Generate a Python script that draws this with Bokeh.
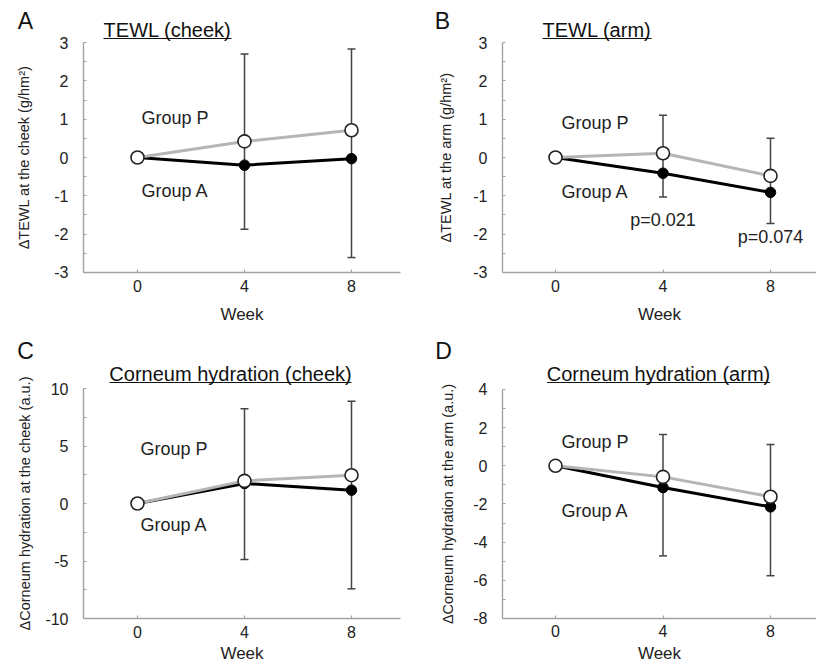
from bokeh.plotting import figure
from bokeh.layouts import gridplot
from bokeh.models import (ColumnDataSource, FixedTicker, Whisker, TeeHead, Label, Arrow,
                          Range1d, PrintfTickFormatter)
from bokeh.embed import file_html
from bokeh.resources import INLINE
from bokeh.core.properties import value

FONT = "Liberation Sans"

weeks = [0, 4, 8]
err_weeks = [4, 8]
week_ticks = [0, 4, 8]

# Panel A: TEWL (cheek)
a_group_p = [0, 0.42, 0.71]
a_group_a = [0, -0.20, -0.03]
a_err_upper = [2.70, 2.83]
a_err_lower = [-1.87, -2.61]
a_yticks = [-3, -2, -1, 0, 1, 2, 3]
a_yminor = [-2.5, -1.5, -0.5, 0.5, 1.5, 2.5]

# Panel B: TEWL (arm)
b_group_p = [0, 0.11, -0.48]
b_group_a = [0, -0.41, -0.91]
b_err_upper = [1.10, 0.50]
b_err_lower = [-1.03, -1.72]
b_yticks = [-3, -2, -1, 0, 1, 2, 3]
b_yminor = [-2.5, -1.5, -0.5, 0.5, 1.5, 2.5]
b_pvalues = ["p=0.021", "p=0.074"]
b_pvalue_y = [-1.63, -2.07]

# Panel C: Corneum hydration (cheek)
c_group_p = [0, 1.97, 2.46]
c_group_a = [0, 1.74, 1.16]
c_err_upper = [8.23, 8.90]
c_err_lower = [-4.87, -7.42]
c_yticks = [-10, -5, 0, 5, 10]
c_yminor = [-7.5, -2.5, 2.5, 7.5]

# Panel D: Corneum hydration (arm)
d_group_p = [0, -0.58, -1.62]
d_group_a = [0, -1.14, -2.15]
d_err_upper = [1.64, 1.12]
d_err_lower = [-4.72, -5.76]
d_yticks = [-8, -6, -4, -2, 0, 2, 4]
d_yminor = [-7, -5, -3, -1, 1, 3]


def make_panel(cfg):
    # canvas placement and pixel calibration (layout only)
    ox, oy, w, h = cfg["canvas"]
    x0px, xppu = cfg["xcal"]
    y0px, yppu = cfg["ycal"]
    dx = lambda X: (X - x0px) / xppu
    dy = lambda Y: (y0px - Y) / yppu

    p = figure(width=w, height=h,
               x_range=Range1d(dx(ox), dx(ox + w)),
               y_range=Range1d(dy(oy + h), dy(oy)),
               output_backend="svg", toolbar_location=None, min_border=0)
    p.outline_line_color = None
    p.xgrid.visible = False
    p.ygrid.visible = False

    ylo, yhi = cfg["yticks"][0], cfg["yticks"][-1]
    xaxis_left = dx(cfg["axis_x"])
    xaxis_right = min(dx(cfg["axis_right"]), dx(ox + w))

    for ax in (p.xaxis[0], p.yaxis[0]):
        ax.axis_line_color = "#a3a3a3"
        ax.axis_line_width = 1.4
        ax.major_tick_line_color = "#a3a3a3"
        ax.minor_tick_line_color = "#a3a3a3"
        ax.major_tick_line_width = 1.2
        ax.minor_tick_line_width = 1.2
        ax.major_tick_in = 3
        ax.major_tick_out = 0
        ax.minor_tick_in = 3
        ax.minor_tick_out = 0
        ax.major_label_text_font = FONT
        ax.major_label_text_font_size = "16px"
        ax.major_label_text_color = "#222222"
        ax.axis_label_text_font = FONT
        ax.axis_label_text_font_style = "normal"
        ax.axis_label_text_color = "#222222"

    xa = p.xaxis[0]
    xa.fixed_location = ylo
    xa.bounds = (xaxis_left, xaxis_right)
    xa.ticker = FixedTicker(ticks=week_ticks)
    xa.major_label_standoff = cfg["xtick_standoff"]
    xa.axis_label = "Week"
    xa.axis_label_text_font_size = "17px"
    xa.axis_label_standoff = cfg["xlabel_standoff"]

    ya = p.yaxis[0]
    ya.fixed_location = xaxis_left
    ya.bounds = (ylo, yhi)
    ya.ticker = FixedTicker(ticks=cfg["yticks"], minor_ticks=cfg["yminor"])
    ya.formatter = PrintfTickFormatter(format="%d")
    ya.major_label_standoff = 15
    ya.axis_label = cfg["ylabel"]
    ya.axis_label_text_font_size = "14.5px"
    ya.axis_label_standoff = cfg["ylabel_standoff"]

    src = ColumnDataSource(dict(x=err_weeks, upper=cfg["eu"], lower=cfg["el"]))
    wk = Whisker(source=src, base="x", upper="upper", lower="lower",
                 line_color="#444444", line_width=1.5,
                 upper_head=TeeHead(size=8, line_color="#444444", line_width=1.5),
                 lower_head=TeeHead(size=8, line_color="#444444", line_width=1.5))
    p.add_layout(wk)

    p.line(weeks, cfg["ga"], line_color="black", line_width=3)
    p.line(weeks, cfg["gp"], line_color="#b5b5b5", line_width=3)
    p.scatter(weeks, cfg["ga"], size=10.5, fill_color="black", line_color="black")
    p.scatter(weeks, cfg["gp"], size=13, fill_color="white", line_color="#222222", line_width=1.6)

    lx, lyp, lya = cfg["group_labels"]
    p.text(x=[lx, lx], y=[lyp, lya], text=["Group P", "Group A"], text_font=value(FONT),
           text_font_size="18px", text_color="#222222",
           text_baseline="middle", text_align="left")

    LX, LY = cfg["letter_px"]
    p.add_layout(Label(x=dx(LX), y=dy(LY), text=cfg["letter"],
                       text_font=FONT, text_font_size="23px", text_color="#111111",
                       text_align="center", text_baseline="middle"))
    TX, TY, TW, UY = cfg["title_px"]
    p.add_layout(Label(x=dx(TX), y=dy(TY), text=cfg["title"],
                       text_font=FONT, text_font_size="20px", text_color="#111111",
                       text_align="center", text_baseline="middle"))
    p.add_layout(Arrow(end=None, x_start=dx(TX - TW / 2), x_end=dx(TX + TW / 2),
                       y_start=dy(UY), y_end=dy(UY),
                       line_color="#111111", line_width=1.2))
    return p


pA = make_panel(dict(
    canvas=(0, 0, 408, 330), xcal=(137, 26.75), ycal=(157, 38.33),
    axis_x=83, axis_right=400, letter="A", title="TEWL (cheek)",
    ylabel="ΔTEWL at the cheek (g/hm²)", gp=a_group_p, ga=a_group_a,
    eu=a_err_upper, el=a_err_lower, yticks=a_yticks, yminor=a_yminor,
    group_labels=(0.15, 1.04, -0.87), letter_px=(25, 20), title_px=(167, 29, 128, 38),
    ylabel_standoff=19, xtick_standoff=8, xlabel_standoff=9))

pB = make_panel(dict(
    canvas=(408, 0, 408, 330), xcal=(555, 26.875), ycal=(157, 38.33),
    axis_x=502, axis_right=816, letter="B", title="TEWL (arm)",
    ylabel="ΔTEWL at the arm (g/hm²)", gp=b_group_p, ga=b_group_a,
    eu=b_err_upper, el=b_err_lower, yticks=b_yticks, yminor=b_yminor,
    group_labels=(0.22, 0.89, -0.90), letter_px=(442, 20), title_px=(596.5, 29, 109, 38),
    ylabel_standoff=16, xtick_standoff=8, xlabel_standoff=9))
pB.text(x=err_weeks, y=b_pvalue_y, text=b_pvalues, text_font=value(FONT),
        text_font_size="18px", text_color="#222222",
        text_baseline="middle", text_align="center")

pC = make_panel(dict(
    canvas=(0, 330, 408, 337), xcal=(137, 26.75), ycal=(503.0, 11.5),
    axis_x=83, axis_right=400, letter="C", title="Corneum hydration (cheek)",
    ylabel="ΔCorneum hydration at the cheek (a.u.)", gp=c_group_p, ga=c_group_a,
    eu=c_err_upper, el=c_err_lower, yticks=c_yticks, yminor=c_yminor,
    group_labels=(0.11, 4.78, -1.83), letter_px=(25, 350), title_px=(230, 373, 242, 382),
    ylabel_standoff=9, xtick_standoff=7, xlabel_standoff=3))

pD = make_panel(dict(
    canvas=(408, 330, 408, 337), xcal=(555, 26.875), ycal=(465.3, 19.083),
    axis_x=502, axis_right=816, letter="D", title="Corneum hydration (arm)",
    ylabel="ΔCorneum hydration at the arm (a.u.)", gp=d_group_p, ga=d_group_a,
    eu=d_err_upper, el=d_err_lower, yticks=d_yticks, yminor=d_yminor,
    group_labels=(0.22, 1.26, -2.38), letter_px=(443, 350), title_px=(658, 373, 223, 382),
    ylabel_standoff=14, xtick_standoff=7, xlabel_standoff=3))

grid = gridplot([[pA, pB], [pC, pD]], toolbar_location=None)

open("out.html", "w").write(file_html(grid, INLINE))
